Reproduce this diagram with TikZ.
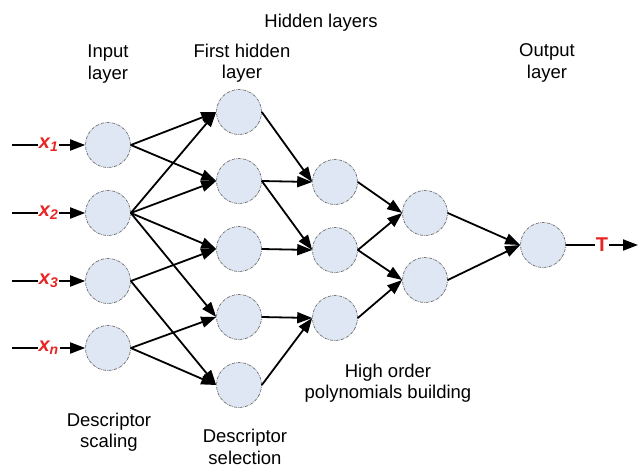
\documentclass[tikz,border=0pt]{standalone}
\usepackage{fontspec}
\setmainfont{Liberation Sans}
\usetikzlibrary{arrows.meta, positioning}
\definecolor{nfill}{RGB}{222,231,243}
\definecolor{ngray}{RGB}{90,90,90}
\definecolor{vred}{RGB}{232,38,36}
\tikzset{
  neuron/.style={circle, minimum size=45pt, inner sep=0pt, fill=nfill,
    draw=ngray, line width=0.6pt, densely dashdotted},
  link/.style={line width=1.8pt, -{Triangle[length=15pt,width=11pt]}},
  var/.style={fill=white, inner sep=1pt, text=vred,
    font=\fontsize{20}{22}\selectfont\bfseries},
  caption/.style={align=center, inner sep=0pt,
    font=\fontsize{18.5}{21.5}\selectfont},
}

\begin{document}
\begin{tikzpicture}[x=1pt, y=-1pt]
  \useasboundingbox (0,0) rectangle (639,471);
  % layers
  \foreach \n/\y in {1/145, 2/213, 3/281, 4/348}
    \node[neuron] (in-\n) at (108,\y) {};
  \foreach \n/\y in {1/112, 2/181, 3/249, 4/317, 5/385}
    \node[neuron] (ha-\n) at (239,\y) {};
  \foreach \n/\y in {1/182, 2/250, 3/318}
    \node[neuron] (hb-\n) at (335,\y) {};
  \foreach \n/\y in {1/213, 2/280}
    \node[neuron] (hc-\n) at (425,\y) {};
  \node[neuron] (out) at (543,245) {};

  % inputs and output
  \foreach \n/\s in {1/1, 2/2, 3/3, 4/n} {
    \coordinate (src-\n) at (12,0 |- in-\n);
    \draw[link] (src-\n) -- node[var] {\itshape x\textsubscript{\s}} (in-\n.west);
  }
  \coordinate (sink) at (638,245);
  \draw[link] (out.east) -- node[var] {T} (sink);

  % connections
  \foreach \a/\b in {1/1, 1/2, 2/1, 2/2, 2/3, 2/4, 3/3, 3/5, 4/4, 4/5}
    \draw[link] (in-\a.east) -- (ha-\b.west);
  \foreach \a/\b in {1/1, 2/1, 2/2, 3/2, 4/3, 5/3}
    \draw[link] (ha-\a.east) -- (hb-\b.west);
  \foreach \a/\b in {1/1, 2/1, 2/2, 3/2}
    \draw[link] (hb-\a.east) -- (hc-\b.west);
  \foreach \a in {1, 2}
    \draw[link] (hc-\a.east) -- (out.west);

  % captions
  \node[caption] (hid-cap) at (321,23) {Hidden layers};
  \node[caption] (in-cap) at (108,64) {Input\\layer};
  \node[caption] (first-cap) at (242,63) {First hidden\\layer};
  \node[caption] (out-cap) at (547,63) {Output\\layer};
  \node[caption] (scal-cap) at (109,432) {Descriptor\\scaling};
  \node[caption] (sel-cap) at (245,447) {Descriptor\\selection};
  \node[caption] (poly-cap) at (388,383) {High order\\polynomials building};
\end{tikzpicture}
\end{document}
